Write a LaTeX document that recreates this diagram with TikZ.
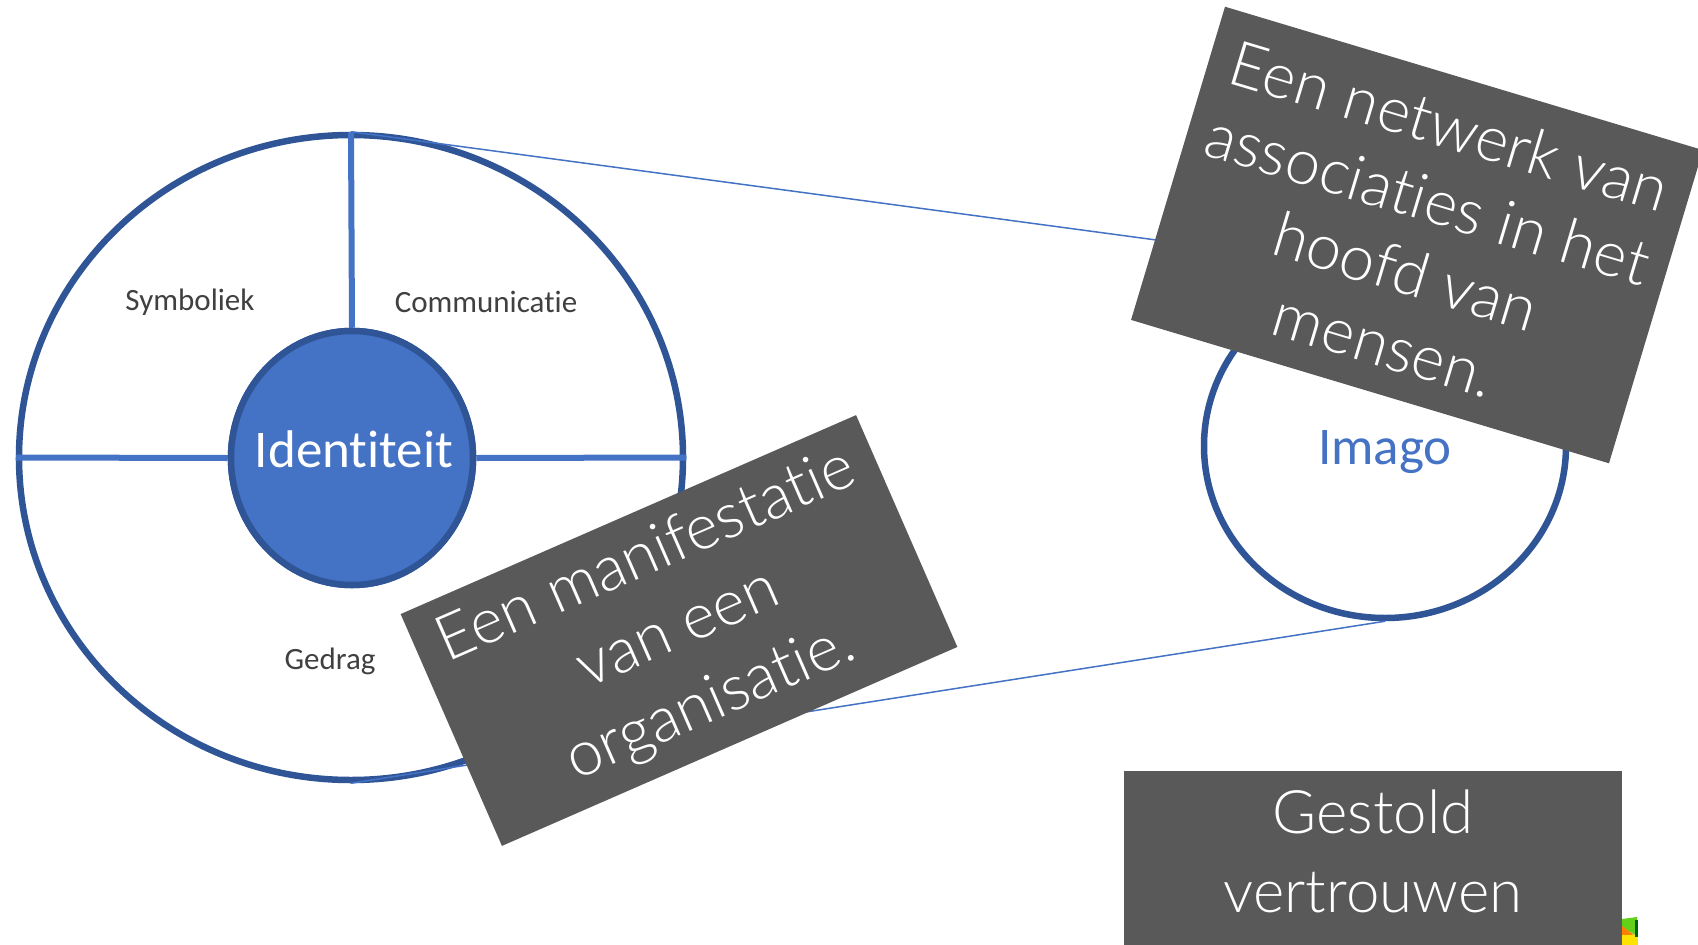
\documentclass[tikz,border=0pt]{standalone}
\usepackage{fontspec}
\setmainfont{Carlito}[Ligatures=NoCommon]
\newfontfamily\hand{Lato Light}[Ligatures=NoCommon]
\usetikzlibrary{shapes.geometric}
\definecolor{fillblue}{HTML}{4472C4}
\definecolor{edgeblue}{HTML}{2F5597}
\definecolor{boxgray}{HTML}{595959}
\definecolor{labelgray}{HTML}{404040}
\begin{document}
\begin{tikzpicture}[x=1pt,y=-1pt,
  ring/.style={ellipse, draw=edgeblue, line width=6.5pt, inner sep=0pt},
  spoke/.style={draw=fillblue, line width=6pt},
  conn/.style={draw=fillblue, line width=1.5pt},
  sector/.style={text=labelgray, font=\fontsize{31}{37}\selectfont, inner sep=0pt},
  board/.style={rectangle, fill=boxgray, inner sep=0pt, outer sep=0pt, text=white, align=center},
  handA/.style={font=\hand\fontsize{63}{76}\selectfont},
  handB/.style={font=\hand\fontsize{63}{80}\selectfont},
]
\clip (0,0) rectangle (1698,945);
\fill[white] (0,0) rectangle (1698,945);

% identity wheel
\node[ring, fill=white, minimum width=664pt, minimum height=645pt] (big) at (351,457.5) {};
\node[ring, fill=fillblue, minimum width=242pt, minimum height=254pt] (id) at (352,458) {};
\draw[spoke] (big.north) -- (id.north);
\draw[spoke] (big.west) -- (id.west);
\draw[spoke] (big.east) -- (id.east);
\node[ring, fill=fillblue, minimum width=242pt, minimum height=254pt] (idc) at (352,458) {};
\node[text=white, font=\fontsize{53}{60}\selectfont, anchor=base] (idt) at (354,467) {Identiteit};
\node[sector] (sym) at (190,302) {Symboliek};
\node[sector] (com) at (486,302) {Communicatie};
\node[sector] (ged) at (330,661) {Gedrag};

% imago
\node[ring, minimum width=362pt, minimum height=344pt] (imago) at (1385,446) {};
\node[text=fillblue, font=\fontsize{53}{60}\selectfont, anchor=base] (imt) at (1385,464) {Imago};

% connectors
\draw[conn] (big.north) -- (imago.north);
\draw[conn] (big.south) -- (imago.south);

% boards
\node[board, handA, minimum width=499pt, minimum height=327pt, rotate=-16.7] (b1) at (1417,235)
  {Een netwerk van\\associaties in het\\hoofd van\\mensen.};
\node[board, handB, minimum width=497pt, minimum height=253pt, rotate=23.6] (b2) at (679,630.5)
  {Een manifestatie\\van een\\organisatie.};
\node[board, minimum width=498pt, minimum height=220pt, anchor=north west] (b3) at (1124,771) {};
\node[text=white, font=\hand\fontsize{60}{72}\selectfont, anchor=base] (g1) at (1373,833) {Gestold};
\node[text=white, font=\hand\fontsize{60}{72}\selectfont, anchor=base] (g2) at (1373,912) {vertrouwen};

% logo fragment
\fill[green!60!yellow!80!black!90] (1622,919) -- (1637,917) -- (1637,936) -- (1622,927) -- cycle;
\fill[orange] (1622,926) -- (1634,935) -- (1622,935) -- cycle;
\fill[yellow!85!orange] (1622,935) rectangle (1638,945);
\fill[green!40!black] (1635,920) rectangle (1638,937);
\end{tikzpicture}
\end{document}
